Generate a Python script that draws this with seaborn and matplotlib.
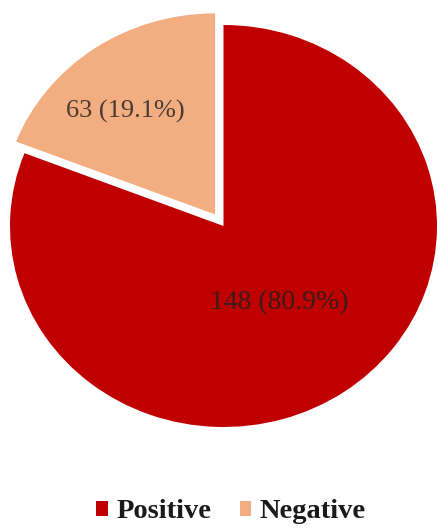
import matplotlib
matplotlib.use("Agg")
import matplotlib.pyplot as plt
import seaborn as sns
import numpy as np

sns.set_theme(style="white")
plt.rcParams['font.family'] = ['Liberation Serif', 'DejaVu Serif']

categories = ["Positive", "Negative"]
counts = [148, 63]
percents = [80.9, 19.1]
colors = ["#C00000", "#F2AD80"]
explode = [0.0, 0.07]

fig = plt.figure(figsize=(4.39, 5.29), dpi=100)
ax = fig.add_axes([10/439, (529-427)/529, 427/439, 402/529])

wedges, _ = ax.pie(percents, colors=colors, explode=explode, startangle=90,
                   counterclock=False, radius=1.0,
                   wedgeprops=dict(linewidth=0))
ax.set_aspect('auto')
ax.set_xlim(-1, 1)
ax.set_ylim(-1, 1)
for w in wedges:
    w.set_clip_on(False)

label_r = [0.46, 0.745]
label_dy = [0.0, -0.105]
label_size = [20, 19]
label_color = ["#3a1a1a", "#4a3a30"]
for w, c, p, r, dy, fs, col in zip(wedges, counts, percents, label_r, label_dy,
                                   label_size, label_color):
    ang = np.deg2rad((w.theta1 + w.theta2) / 2)
    cx, cy = w.center
    ax.text(cx + r * np.cos(ang), cy + r * np.sin(ang) + dy,
            f"{c} ({p}%)", ha="center", va="center", fontsize=fs,
            color=col)

leg = fig.legend(wedges, categories, loc="center",
                 bbox_to_anchor=(231/439, 1 - 512/529),
                 ncol=2, frameon=False, handlelength=0.4, handleheight=0.4,
                 handletextpad=0.3, columnspacing=1.0,
                 prop=dict(family='Liberation Serif', weight='bold', size=20.5))
for t in leg.get_texts():
    t.set_color("#1a1a1a")

fig.savefig("out.png", dpi=100, facecolor="white")
